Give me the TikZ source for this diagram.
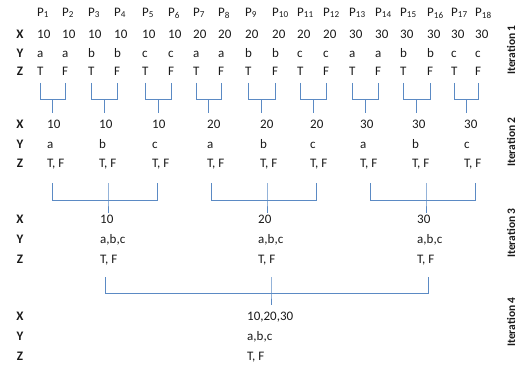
\documentclass[tikz,border=0pt]{standalone}
\usepackage{fontspec}
\setmainfont{Carlito}
\usetikzlibrary{calc}
\definecolor{brc}{HTML}{5B8AC4}
\definecolor{txt}{HTML}{1A1A1A}
\begin{document}
\begin{tikzpicture}[x=1pt,y=-1pt,
  t/.style={anchor=west,inner sep=0pt,text height=8.5pt,text depth=2.2pt,font=\fontsize{13}{15}\selectfont,text=txt},
  lab/.style={t,anchor=center,font=\fontsize{13}{15}\selectfont\bfseries},
  itlab/.style={rotate=90,inner sep=0pt,font=\fontsize{11.5}{13}\selectfont\bfseries,text=txt},
  br/.style={draw=brc,line width=1pt}]
\useasboundingbox (0,0) rectangle (520,369);

% row labels
\foreach \yy/\nm [count=\r] in {35/X,54/Y,72/Z,125/X,145/Y,164/Z,220/X,240/Y,260/Z,317/X,337/Y,357/Z}
  \node[lab] (rl\r) at (20,\yy) {\nm};

% iteration labels
\node[itlab] (it1) at (511,50) {Iteration 1};
\node[itlab] (it2) at (511,142) {Iteration 2};
\node[itlab] (it3) at (511,233) {Iteration 3};
\node[itlab] (it4) at (511,322) {Iteration 4};

% iteration 1
\foreach \s/\xv/\yv/\zv [count=\i] in {37/10/a/T,62/10/a/F,88/10/b/T,114/10/b/F,142/10/c/T,168/10/c/F,
  193/20/a/T,218/20/a/F,245/20/b/T,272/20/b/F,297/20/c/T,323/20/c/F,
  349/30/a/T,375/30/a/F,400/30/b/T,427/30/b/F,451/30/c/T,475/30/c/F}{
  \node[t] (p\i) at (\s,13) {P\textsubscript{\i}};
  \node[t] (xa\i) at (\s,35) {\xv};
  \node[t] (ya\i) at (\s,54) {\yv};
  \node[t] (za\i) at (\s,72) {\zv};
}

% iteration 2
\foreach \s/\xv/\yv [count=\k] in {47/10/a,99/10/b,152/10/c,207/20/a,260/20/b,310/20/c,360/30/a,412/30/b,464/30/c}{
  \node[t] (xb\k) at (\s,125) {\xv};
  \node[t] (yb\k) at (\s,145) {\yv};
  \node[t] (zb\k) at (\s,164) {T, F};
}

% brackets iteration 1 -> 2
\foreach \k in {1,...,9}{
  \pgfmathtruncatemacro\a{2*\k-1}
  \pgfmathtruncatemacro\b{2*\k}
  \coordinate (la\k) at ($(za\a.center |- 0,100)!.5!(za\b.center |- 0,100)$);
  \draw[br] (za\a.center |- 0,83) -- (za\a.center |- 0,100) -- (za\b.center |- 0,100) -- (za\b.center |- 0,83);
  \draw[br] (la\k) -- (la\k |- 0,113);
}

% iteration 3
\foreach \s/\xv [count=\g] in {100/10,258/20,417/30}{
  \node[t] (xc\g) at (\s,220) {\xv};
  \node[t] (yc\g) at (\s,240) {a,b,c};
  \node[t] (zc\g) at (\s,260) {T, F};
}

% brackets iteration 2 -> 3
\foreach \a/\m/\c [count=\g] in {52/108/157,211/267/316,370/426/475}{
  \coordinate (lb\g) at (\m,200);
  \draw[br] (\a,183) -- (\a,200) -- (\c,200) -- (\c,183);
  \draw[br] (\m,183) -- (lb\g) -- (\m,213);
}

% iteration 4
\node[t] (xd) at (247,317) {10,20,30};
\node[t] (yd) at (247,337) {a,b,c};
\node[t] (zd) at (247,357) {T, F};

% bracket iteration 3 -> 4
\coordinate (lc) at (271,293);
\draw[br] (105,277) -- (105,293) -- (428,293) -- (428,277);
\draw[br] (271,277) -- (lc) -- (271,305);
\end{tikzpicture}
\end{document}
